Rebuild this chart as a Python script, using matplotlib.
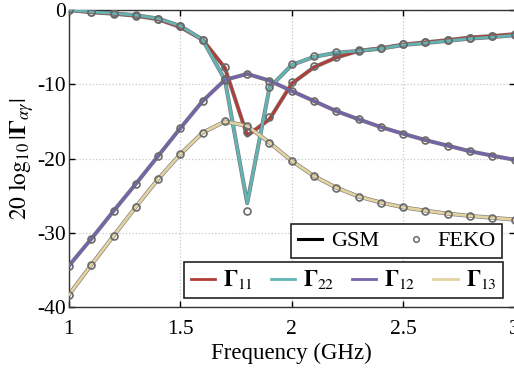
import matplotlib
matplotlib.use('Agg')
import matplotlib.pyplot as plt
from matplotlib.lines import Line2D

plt.rcParams['font.family'] = ['Liberation Serif', 'DejaVu Serif']
plt.rcParams['mathtext.fontset'] = 'stix'
plt.rcParams['axes.unicode_minus'] = False

# frequency samples (GHz)
freq = [1.0, 1.1, 1.2, 1.3, 1.4, 1.5, 1.6, 1.7, 1.8, 1.9, 2.0,
        2.1, 2.2, 2.3, 2.4, 2.5, 2.6, 2.7, 2.8, 2.9, 3.0]

# GSM results (dB)
g11 = [0.0, -0.3, -0.5, -0.77, -1.25, -2.3, -4.0, -7.8, -16.9, -14.7, -9.9,
       -7.7, -6.4, -5.5, -5.15, -4.65, -4.35, -4.05, -3.7, -3.5, -3.25]
g22 = [0.0, -0.25, -0.45, -0.7, -1.15, -2.15, -4.0, -9.4, -26.0, -10.45, -7.4,
       -6.3, -5.75, -5.5, -5.2, -4.7, -4.45, -4.15, -3.85, -3.65, -3.4]
g12 = [-34.4, -30.8, -27.05, -23.4, -19.65, -15.9, -12.25, -9.4, -8.6, -9.5, -10.9,
       -12.25, -13.6, -14.7, -15.75, -16.65, -17.5, -18.25, -19.0, -19.6, -20.15]
g13 = [-38.3, -34.3, -30.4, -26.5, -22.75, -19.4, -16.5, -15.0, -15.6, -17.85, -20.3,
       -22.35, -23.9, -25.1, -25.9, -26.55, -27.0, -27.4, -27.7, -27.95, -28.2]

# FEKO results (dB)
f11 = [0.0, -0.3, -0.5, -0.77, -1.2, -2.1, -4.0, -7.7, -16.4, -14.4, -9.7,
       -7.6, -6.3, -5.45, -5.1, -4.6, -4.3, -4.0, -3.7, -3.45, -3.2]
f22 = [0.0, -0.25, -0.45, -0.7, -1.15, -2.1, -4.0, -9.3, -27.0, -10.3, -7.3,
       -6.2, -5.65, -5.4, -5.1, -4.6, -4.35, -4.05, -3.8, -3.55, -3.35]
f12 = g12
f13 = g13

labels = [r'$\mathbf{\Gamma}_{11}$', r'$\mathbf{\Gamma}_{22}$',
          r'$\mathbf{\Gamma}_{12}$', r'$\mathbf{\Gamma}_{13}$']
colors = ['#b23c37', '#62b4b4', '#7563ad', '#e3d3a0']

fig = plt.figure(figsize=(5.14, 3.69), dpi=100)
ax = fig.add_axes([0.1342, 0.1672, 0.8668, 0.8057])

gsm = [g11, g22, g12, g13]
feko = [f11, f22, f12, f13]
for g, f, c in zip(gsm, feko, colors):
    ax.plot(freq, g, color='#7a7a7a', lw=2.9, zorder=2)
    ax.plot(freq, g, color=c, lw=2.0, zorder=3)
    ax.plot(freq, f, ls='none', marker='o', ms=5, mfc='none', mec='#6a6a6a', mew=1.2, zorder=4)

ax.set_xlim(1, 3)
ax.set_ylim(-40, 0)
ax.set_xticks([1, 1.5, 2, 2.5, 3])
ax.set_xticklabels(['1', '1.5', '2', '2.5', '3'])
ax.set_yticks([0, -10, -20, -30, -40])
ax.tick_params(direction='in', top=True, right=True, labelsize=15.5, length=4, width=1, pad=2)
ax.tick_params(axis='x', pad=9)
ax.grid(True, ls=':', color='#c8c8c8', lw=0.9)
for s in ax.spines.values():
    s.set_color('#333333')
    s.set_linewidth(1.0)

ax.set_xlabel('Frequency (GHz)', fontsize=16.5, labelpad=3)
ax.set_ylabel(r'$20\ \log_{10}|\mathbf{\Gamma}_{\alpha\gamma}|$', fontsize=17, labelpad=1)

h1 = [Line2D([], [], color='black', lw=2.2),
      Line2D([], [], ls='none', marker='o', ms=4, mfc='none', mec='#6a6a6a', mew=1.1)]
leg1 = ax.legend(h1, ['GSM', 'FEKO'], ncol=2, loc='lower right',
                 bbox_to_anchor=(0.972, 0.166), fontsize=16, fancybox=False,
                 edgecolor='#222222', framealpha=1, handlelength=1.1,
                 columnspacing=1.1, handletextpad=0.4, borderpad=0.3,
                 borderaxespad=0)
leg1.get_frame().set_linewidth(1.2)
ax.add_artist(leg1)

h2 = [Line2D([], [], color=c, lw=2.0) for c in colors]
leg2 = ax.legend(h2, labels, ncol=4, loc='lower right',
                 bbox_to_anchor=(0.974, 0.031), fontsize=16, fancybox=False,
                 edgecolor='#222222', framealpha=1, handlelength=1.1,
                 columnspacing=0.8, handletextpad=0.35, borderpad=0.3,
                 borderaxespad=0)
leg2.get_frame().set_linewidth(1.2)

fig.savefig('out.png', dpi=100)
